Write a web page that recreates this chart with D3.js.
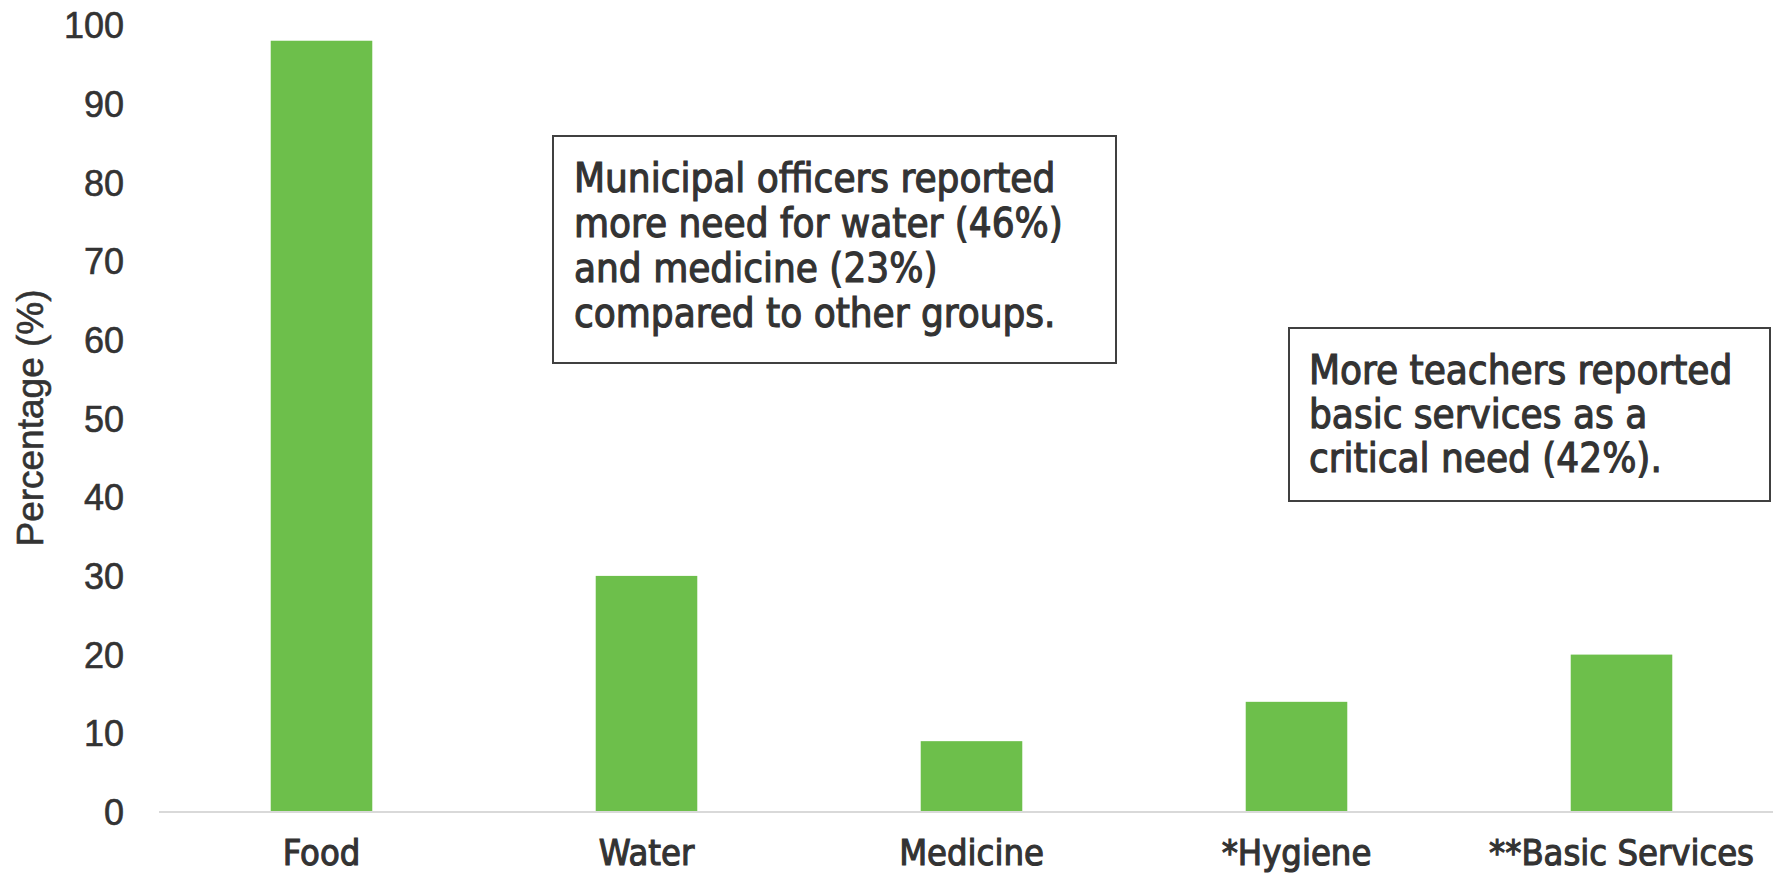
<!DOCTYPE html>
<html><head><meta charset="utf-8">
<script src="https://cdn.jsdelivr.net/npm/d3@7"></script>
<style>
html,body{margin:0;padding:0;background:#fff;}
svg{display:block;}
</style></head>
<body>
<svg id="chart" width="1773" height="875"></svg>
<script>
const categories = ["Food", "Water", "Medicine", "*Hygiene", "**Basic Services"];
const values = [98, 30, 9, 14, 20];
const yTicks = [0, 10, 20, 30, 40, 50, 60, 70, 80, 90, 100];
const yLabel = "Percentage (%)";
const note1Lines = ["Municipal officers reported", "more need for water (46%)", "and medicine (23%)", "compared to other groups."];
const note2Lines = ["More teachers reported", "basic services as a", "critical need (42%)."];

const svg = d3.select("#chart");
const textColor = "#333333";
const barColor = "#6dbf4b";
const condFont = "'DejaVu Sans Condensed', 'Liberation Sans Narrow', sans-serif";
const tickFont = "'Liberation Sans', Arial, sans-serif";

const x = d3.scaleBand().domain(categories).range([159, 1784]).padding(0);
const y = d3.scaleLinear().domain([0, 100]).range([812, 25]);
const barW = x.bandwidth() / 3.2;

// bars
svg.append("g").selectAll("rect").data(values).join("rect")
  .attr("x", (d, i) => x(categories[i]) + x.bandwidth() / 2 - barW / 2)
  .attr("y", d => y(d))
  .attr("width", barW)
  .attr("height", d => y(0) - y(d))
  .attr("fill", barColor);

// x axis line
svg.append("line").attr("x1", 159).attr("x2", 1773).attr("y1", y(0)).attr("y2", y(0))
  .attr("stroke", "#d9d9d9").attr("stroke-width", 2);

// y axis tick labels
const yAxis = d3.axisLeft(y).tickValues(yTicks).tickSize(0).tickPadding(0);
const gy = svg.append("g").attr("transform", "translate(124,0)").call(yAxis);
gy.select(".domain").remove();
gy.selectAll("text").attr("font-family", tickFont).attr("font-size", 36)
  .attr("fill", textColor).attr("stroke", textColor).attr("stroke-width", 0.6).attr("dy", "0.35em");

// x axis labels
const xAxis = d3.axisBottom(x).tickSize(0).tickPadding(0);
const gx = svg.append("g").attr("transform", "translate(0,852)").call(xAxis);
gx.select(".domain").remove();
gx.selectAll("text").attr("font-family", condFont).attr("font-size", 36).attr("font-weight", "normal")
  .attr("fill", textColor).attr("stroke", textColor).attr("stroke-width", 1.1).attr("dy", "0.35em");

// y label
svg.append("text").attr("transform", "translate(30,418) rotate(-90)")
  .attr("text-anchor", "middle").attr("dy", "0.35em")
  .attr("font-family", tickFont).attr("font-size", 37).attr("fill", textColor)
  .attr("stroke", textColor).attr("stroke-width", 0.6)
  .text(yLabel);

// annotation boxes
function note(x0, y0, w, h, lines, tx, ty, lh) {
  const g = svg.append("g");
  g.append("rect").attr("x", x0).attr("y", y0).attr("width", w).attr("height", h)
    .attr("fill", "#fff").attr("stroke", "#404040").attr("stroke-width", 2);
  g.selectAll("text").data(lines).join("text")
    .attr("x", tx).attr("y", (d, i) => ty + i * lh).attr("dy", "0.35em")
    .attr("font-family", condFont).attr("font-size", 40).attr("font-weight", "normal")
    .attr("fill", textColor).attr("stroke", textColor).attr("stroke-width", 1.1).text(d => d);
}
note(553, 136, 563, 227, note1Lines, 574, 177.5, 45);
note(1289, 328, 481, 173, note2Lines, 1309, 370, 44);
</script>
</body></html>
